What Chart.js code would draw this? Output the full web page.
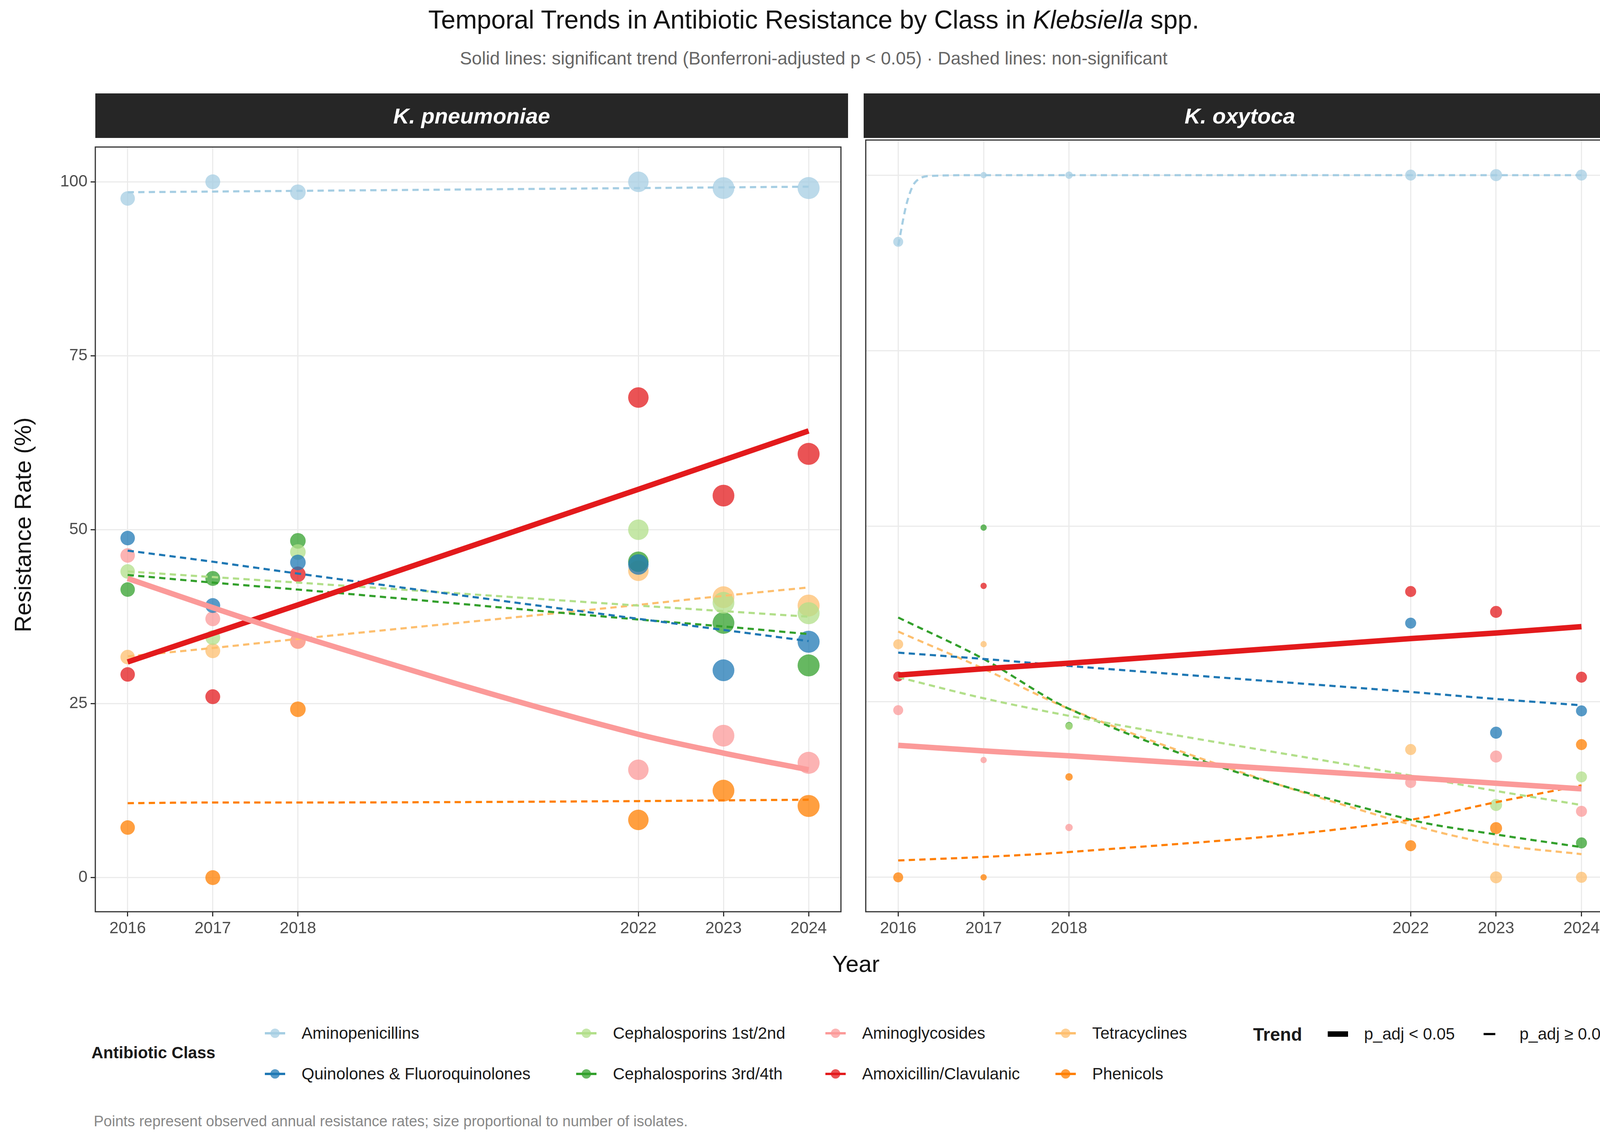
<!DOCTYPE html>
<html>
<head>
<meta charset="utf-8">
<script src="https://cdn.jsdelivr.net/npm/chart.js@4.4.1/dist/chart.umd.min.js"></script>
<style>
  body { margin: 0; width: 4166px; height: 2912px; background: #fff; position: relative; font-family: "Liberation Sans", Arial, sans-serif; overflow: hidden; }
  .abs { position: absolute; }
  canvas { position: absolute; }
  .strip { position: absolute; background: #262626; color: #fff; font-weight: bold; font-style: italic; font-size: 56px; display: flex; align-items: center; justify-content: center; }
  .leg { position: absolute; font-size: 42px; color: #1a1a1a; white-space: nowrap; }
  .key { position: absolute; width: 60px; height: 60px; }
</style>
</head>
<body>
<div class="abs" style="left:0;width:4166px;top:12px;text-align:center;font-size:66px;color:#111">Temporal Trends in Antibiotic Resistance by Class in <i>Klebsiella</i> spp.</div>
<div class="abs" style="left:0;width:4166px;top:122px;text-align:center;font-size:46px;color:#666">Solid lines: significant trend (Bonferroni-adjusted p &lt; 0.05) · Dashed lines: non-significant</div>
<div class="strip" style="left:244px;top:239px;width:1927px;height:114px">K. pneumoniae</div>
<div class="strip" style="left:2211px;top:239px;width:1926px;height:114px">K. oxytoca</div>
<div class="abs" style="left:58px;top:1343px;transform:translate(-50%,-50%) rotate(-90deg);font-size:60px;color:#111;white-space:nowrap">Resistance Rate (%)</div>
<div class="abs" style="left:2191px;top:2466px;transform:translate(-50%,-50%);font-size:60px;color:#111">Year</div>
<canvas id="kp" width="2181" height="2110" style="left:0;top:343px"></canvas>
<canvas id="ko" width="1946" height="2110" style="left:2201px;top:343px"></canvas>
<div id="legend"></div>
<div class="abs" style="left:240px;top:2848px;font-size:38px;color:#888">Points represent observed annual resistance rates; size proportional to number of isolates.</div>
<script>
const years = [2016, 2017, 2018, 2022, 2023, 2024];
const classNames = ["Aminopenicillins", "Quinolones & Fluoroquinolones", "Cephalosporins 1st/2nd", "Cephalosporins 3rd/4th",
  "Aminoglycosides", "Amoxicillin/Clavulanic", "Tetracyclines", "Phenicols"];
const classColors = ["#A6CEE3", "#1F78B4", "#B2DF8A", "#33A02C", "#FB9A99", "#E31A1C", "#FDBF6F", "#FF7F00"];
const yTicks = [0, 25, 50, 75, 100];

// K. pneumoniae observed rates (one array per class, order of classNames)
const kpAminopen = [97.6, 100, 98.5, 100, 99.1, 99.1];
const kpQuinolones = [48.8, 39.1, 45.3, 45.0, 29.8, 33.9];
const kpCeph12 = [44.0, 34.5, 46.8, 50.0, 39.5, 38.0];
const kpCeph34 = [41.4, 43.0, 48.4, 45.4, 36.6, 30.5];
const kpAminogly = [46.3, 37.2, 34.0, 15.5, 20.4, 16.5];
const kpAmox = [29.2, 26.0, 43.6, 69.0, 54.9, 60.9];
const kpTetra = [31.7, 32.6, 34.0, 44.1, 40.3, 39.1];
const kpPhenicols = [7.2, 0, 24.2, 8.3, 12.5, 10.3];
const kpIsolates = [95, 100, 110, 190, 215, 220];

// K. pneumoniae fitted trends at the same years
const kpTrendAminopen = [98.5, 98.6, 98.7, 99.1, 99.2, 99.3];
const kpTrendQuinolones = [47.0, 45.4, 43.7, 37.2, 35.6, 34.0];
const kpTrendCeph12 = [44.0, 43.2, 42.4, 39.1, 38.3, 37.5];
const kpTrendCeph34 = [43.5, 42.4, 41.4, 37.1, 36.1, 35.0];
const kpTrendAminogly = [43.0, 38.8, 34.8, 20.6, 17.9, 15.5];
const kpTrendAmox = [31.0, 35.1, 39.2, 55.8, 60.0, 64.2];
const kpTrendTetra = [31.8, 33.0, 34.3, 39.2, 40.5, 41.7];
const kpTrendPhenicols = [10.7, 10.8, 10.8, 11.0, 11.1, 11.2];

// K. oxytoca observed rates
const koAminopen = [90.5, 100, 100, 100, 100, 100];
const koQuinolones = [null, null, null, 36.2, 20.6, 23.7];
const koCeph12 = [null, null, 21.5, null, 10.3, 14.3];
const koCeph34 = [null, 49.8, 21.6, null, null, 4.9];
const koAminogly = [23.8, 16.7, 7.1, 13.5, 17.2, 9.4];
const koAmox = [28.6, 41.5, null, 40.7, 37.8, 28.5];
const koTetra = [33.2, 33.2, null, 18.2, 0, 0];
const koPhenicols = [0, 0, 14.3, 4.5, 7.0, 18.9];
const koIsolates = [45, 18, 25, 55, 65, 55];

// K. oxytoca fitted trends
const koAminopenYears = [2016, 2016.1, 2016.2, 2016.4, 2017, 2018, 2022, 2023, 2024];
const koTrendAminopen = [90.0, 96.0, 99.0, 99.9, 100, 100, 100, 100, 100];
const koTrendQuinolones = [32.0, 31.1, 30.1, 26.4, 25.4, 24.5];
const koTrendCeph12 = [28.5, 25.5, 23.0, 14.5, 12.3, 10.3];
const koTrendCeph34 = [37.0, 31.1, 24.0, 8.2, 6.1, 4.3];
const koTrendAminogly = [18.8, 18.0, 17.3, 14.2, 13.4, 12.6];
const koTrendAmox = [28.8, 29.7, 30.5, 34.0, 34.8, 35.7];
const koTrendTetra = [35.0, 29.7, 24.0, 7.5, 4.7, 3.3];
const koTrendPhenicols = [2.4, 2.9, 3.6, 8.2, 10.7, 13.1];

const significant = {
  kp: [false, false, false, false, true, true, false, false],
  ko: [false, false, false, false, true, true, false, false]
};

function withAlpha(hex, a) {
  const n = parseInt(hex.slice(1), 16);
  return `rgba(${n >> 16},${(n >> 8) & 255},${n & 255},${a})`;
}

function buildDatasets(values, isolates, trends, trendYears, sig) {
  const sets = [];
  values.forEach((vals, i) => {
    const pts = [], radii = [];
    vals.forEach((v, j) => {
      if (v === null) return;
      pts.push({ x: years[j], y: v });
      radii.push(1.9 * Math.sqrt(isolates[j]));
    });
    sets.push({
      type: 'scatter', data: pts, order: 2,
      backgroundColor: withAlpha(classColors[i], 0.75), borderWidth: 0,
      pointRadius: radii, pointHoverRadius: radii
    });
  });
  trends.forEach((vals, i) => {
    const xs = trendYears[i] || years;
    sets.push({
      type: 'line', data: vals.map((v, j) => ({ x: xs[j], y: v })), order: sig[i] ? 0 : 1,
      borderColor: classColors[i], borderWidth: sig[i] ? 14 : 5.5,
      borderDash: sig[i] ? [] : [16, 11], borderCapStyle: 'butt',
      pointRadius: 0, tension: 0.4, cubicInterpolationMode: 'monotone', fill: false
    });
  });
  return sets;
}

const panelBorder = {
  id: 'panelBorder',
  afterDraw(c) {
    const a = c.chartArea, ctx = c.ctx;
    ctx.save();
    ctx.strokeStyle = '#333';
    ctx.lineWidth = 3;
    ctx.strokeRect(a.left, a.top, a.right - a.left, a.bottom - a.top);
    ctx.restore();
  }
};

function makeChart(id, datasets, showY) {
  const tickFont = { family: '"Liberation Sans", Arial, sans-serif', size: 42 };
  return new Chart(document.getElementById(id), {
    data: { datasets },
    plugins: [panelBorder],
    options: {
      responsive: false, animation: false, devicePixelRatio: 1,
      layout: { padding: { top: 10, right: 10, left: showY ? 0 : 10, bottom: 0 } },
      plugins: { legend: { display: false }, tooltip: { enabled: false } },
      scales: {
        x: {
          type: 'linear', min: 2015.62, max: 2024.38,
          afterBuildTicks: s => { s.ticks = years.map(v => ({ value: v })); },
          afterFit: s => { s.height = 120; },
          ticks: { font: tickFont, color: '#4d4d4d', padding: 6, callback: v => String(v) },
          grid: { color: '#ebebeb', lineWidth: 3, tickColor: '#333', tickLength: 12 },
          border: { display: false }
        },
        y: {
          min: -4.9, max: 105,
          afterBuildTicks: s => { s.ticks = yTicks.map(v => ({ value: v })); },
          afterFit: s => { s.width = showY ? 244 : 0; },
          ticks: { display: showY, font: tickFont, color: '#4d4d4d', padding: 8 },
          grid: { color: '#ebebeb', lineWidth: 3, tickColor: '#333', tickLength: 12, drawTicks: showY },
          border: { display: false }
        }
      }
    }
  });
}

makeChart('kp', buildDatasets(
  [kpAminopen, kpQuinolones, kpCeph12, kpCeph34, kpAminogly, kpAmox, kpTetra, kpPhenicols], kpIsolates,
  [kpTrendAminopen, kpTrendQuinolones, kpTrendCeph12, kpTrendCeph34, kpTrendAminogly, kpTrendAmox, kpTrendTetra, kpTrendPhenicols],
  [], significant.kp), true);

makeChart('ko', buildDatasets(
  [koAminopen, koQuinolones, koCeph12, koCeph34, koAminogly, koAmox, koTetra, koPhenicols], koIsolates,
  [koTrendAminopen, koTrendQuinolones, koTrendCeph12, koTrendCeph34, koTrendAminogly, koTrendAmox, koTrendTetra, koTrendPhenicols],
  [koAminopenYears], significant.ko), false);

// legend
const legend = document.getElementById('legend');
const colX = [704, 1501, 2139, 2728];
const rowY = [2644, 2748];
let html = '<div class="leg" style="left:234px;top:2670px;font-weight:bold">Antibiotic Class</div>';
classNames.forEach((name, i) => {
  const cx = colX[Math.floor(i / 2)], cy = rowY[i % 2];
  html += `<svg class="key" style="left:${cx - 30}px;top:${cy - 30}px" viewBox="0 0 60 60">
    <line x1="4" y1="30" x2="56" y2="30" stroke="${classColors[i]}" stroke-width="6"/>
    <circle cx="30" cy="30" r="12" fill="${withAlpha(classColors[i], 0.75)}"/></svg>`;
  html += `<div class="leg" style="left:${cx + 68}px;top:${cy - 24}px">${name}</div>`;
});
html += '<div class="leg" style="left:3208px;top:2620px;font-weight:bold;font-size:46px">Trend</div>';
html += '<svg class="key" style="left:3395px;top:2616px" viewBox="0 0 60 60"><line x1="4" y1="30" x2="56" y2="30" stroke="#000" stroke-width="14"/></svg>';
html += '<div class="leg" style="left:3492px;top:2622px">p_adj &lt; 0.05</div>';
html += '<svg class="key" style="left:3790px;top:2616px" viewBox="0 0 60 60"><line x1="8" y1="30" x2="38" y2="30" stroke="#000" stroke-width="5.5"/></svg>';
html += '<div class="leg" style="left:3890px;top:2622px">p_adj ≥ 0.05</div>';
legend.innerHTML = html;
</script>
</body>
</html>
